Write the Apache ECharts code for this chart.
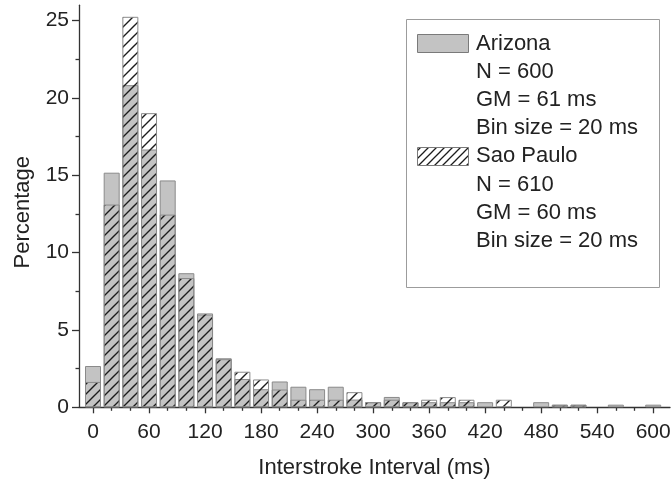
<!DOCTYPE html>
<html>
<head>
<meta charset="utf-8">
<script src="https://cdn.jsdelivr.net/npm/echarts@6/dist/echarts.min.js"></script>
<style>
  html, body { margin: 0; padding: 0; background: #ffffff; }
  #chart { width: 671px; height: 479px; }
</style>
</head>
<body>
<div id="chart"></div>
<script>
// Histogram bins (bin centre, ms) and percentage of strokes per bin
const binCenters = [0, 20, 40, 60, 80, 100, 120, 140, 160, 180, 200, 220, 240, 260, 280, 300,
                    320, 340, 360, 380, 400, 420, 440, 460, 480, 500, 520, 540, 560, 580, 600];
const arizona = [2.67, 15.17, 20.83, 16.67, 14.67, 8.67, 6.00, 3.17, 1.83, 1.17, 1.67, 1.33, 1.17, 1.33, 0.50, 0.33,
                 0.67, 0.33, 0.33, 0.33, 0.33, 0.33, 0, 0, 0.33, 0.17, 0.17, 0, 0.17, 0, 0.17];
const saoPaulo = [1.64, 13.11, 25.25, 19.02, 12.46, 8.36, 6.07, 3.11, 2.30, 1.80, 1.15, 0.49, 0.49, 0.49, 0.98, 0.33,
                  0.49, 0.33, 0.49, 0.66, 0.49, 0, 0.49, 0, 0, 0.16, 0.16, 0, 0, 0, 0];

// Axis ticks and labels
const xMajorTicks = [0, 60, 120, 180, 240, 300, 360, 420, 480, 540, 600];
const xMinorTicks = [20, 40, 80, 100, 140, 160, 200, 220, 260, 280, 320, 340, 380, 400, 440, 460, 500, 520, 560, 580];
const yMajorTicks = [0, 5, 10, 15, 20, 25];
const yMinorTicks = [2.5, 7.5, 12.5, 17.5, 22.5];

// Legend text
const arizonaLegend = ['Arizona', 'N = 600', 'GM = 61 ms', 'Bin size = 20 ms'];
const saoPauloLegend = ['Sao Paulo', 'N = 610', 'GM = 60 ms', 'Bin size = 20 ms'];

const FONT = '"Liberation Sans", Arial, Helvetica, sans-serif';
const TEXT = '#222222';
const AXIS = '#333333';
const X_RANGE = { min: -15, max: 618 };
const Y_RANGE = { min: 0, max: 26 };

// Transparent tile with a "/" diagonal stroke, used as the hatch fill
function makeHatch(size, lw) {
  const c = document.createElement('canvas');
  c.width = size; c.height = size;
  const g = c.getContext('2d');
  g.strokeStyle = '#1c1c1c';
  g.lineWidth = lw;
  g.lineCap = 'square';
  g.beginPath();
  g.moveTo(-2, size + 2); g.lineTo(size + 2, -2);
  g.moveTo(-2, 2); g.lineTo(2, -2);
  g.moveTo(size - 2, size + 2); g.lineTo(size + 2, size - 2);
  g.stroke();
  return c;
}
const hatchTile = makeHatch(10, 1.4);

const toPairs = (vals) => binCenters.map((x, i) => [x, vals[i] > 0 ? vals[i] : '-']);

// Fixed plot rectangle; labels and titles are allowed to sit outside it
const gridBox = { left: 79, right: 1, top: 5.2, bottom: 71.7, containLabel: false, outerBoundsMode: 'none' };

// Axis that only draws outward ticks at the given values
function tickAxis(range, gridIndex, values, len) {
  return Object.assign({
    type: 'value', gridIndex: gridIndex,
    axisLine: { show: false, onZero: false },
    axisTick: { show: true, customValues: values, length: len, lineStyle: { color: AXIS, width: 1.3 } },
    axisLabel: { show: false },
    splitLine: { show: false }
  }, range);
}

const legendGraphics = [
  { type: 'rect', shape: { x: 406.5, y: 19.5, width: 253, height: 268 },
    style: { fill: '#ffffff', stroke: '#9c9c9c', lineWidth: 1 }, z: 10 },
  { type: 'rect', shape: { x: 417.5, y: 34.5, width: 51, height: 18 },
    style: { fill: '#c3c3c3', stroke: '#7a7a7a', lineWidth: 1 }, z: 11 },
  { type: 'rect', shape: { x: 417.5, y: 147.5, width: 51, height: 18 },
    style: { fill: { image: makeHatch(8, 1.3), repeat: 'repeat' }, stroke: '#7a7a7a', lineWidth: 1 }, z: 11 }
];
arizonaLegend.concat(saoPauloLegend).forEach((line, i) => {
  legendGraphics.push({
    type: 'text', x: 476, y: 44 + i * 28.1, z: 11,
    style: { text: line, fill: TEXT, font: '22px ' + FONT, verticalAlign: 'middle', align: 'left' }
  });
});

const chart = echarts.init(document.getElementById('chart'), null, { renderer: 'canvas' });
chart.setOption({
  animation: false,
  backgroundColor: '#ffffff',
  grid: [ Object.assign({}, gridBox), Object.assign({}, gridBox), Object.assign({}, gridBox) ],
  xAxis: [
    Object.assign({
      type: 'value', gridIndex: 0,
      name: 'Interstroke Interval (ms)', nameLocation: 'middle', nameGap: 50,
      nameTextStyle: { fontSize: 22, color: TEXT, fontFamily: FONT },
      axisLine: { show: true, onZero: false, lineStyle: { color: AXIS, width: 1.3 } },
      axisTick: { show: false },
      axisLabel: { show: true, customValues: xMajorTicks, fontSize: 21, color: TEXT, fontFamily: FONT, margin: 14 },
      splitLine: { show: false }
    }, X_RANGE),
    tickAxis(X_RANGE, 1, xMajorTicks, 6),
    tickAxis(X_RANGE, 2, xMinorTicks, 3.5)
  ],
  yAxis: [
    Object.assign({
      type: 'value', gridIndex: 0,
      name: 'Percentage', nameLocation: 'middle', nameGap: 45,
      nameTextStyle: { fontSize: 22, color: TEXT, fontFamily: FONT, padding: [0, 12, 0, 0] },
      axisLine: { show: true, onZero: false, lineStyle: { color: AXIS, width: 1.3 } },
      axisTick: { show: false },
      axisLabel: { show: true, customValues: yMajorTicks, fontSize: 21, color: TEXT, fontFamily: FONT, margin: 10 },
      splitLine: { show: false }
    }, Y_RANGE),
    tickAxis(Y_RANGE, 1, yMajorTicks, 7),
    tickAxis(Y_RANGE, 2, yMinorTicks, 3.5)
  ],
  series: [
    {
      name: 'Arizona', type: 'bar', xAxisIndex: 0, yAxisIndex: 0,
      data: toPairs(arizona), barWidth: 16, barGap: '-100%', silent: true,
      itemStyle: { color: '#c3c3c3', borderColor: '#8a8a8a', borderWidth: 1 }
    },
    {
      name: 'Sao Paulo', type: 'bar', xAxisIndex: 0, yAxisIndex: 0,
      data: toPairs(saoPaulo), barWidth: 16, barGap: '-100%', silent: true,
      itemStyle: { color: { image: hatchTile, repeat: 'repeat' }, borderColor: '#8a8a8a', borderWidth: 1 }
    }
  ],
  graphic: legendGraphics
});
</script>
</body>
</html>
